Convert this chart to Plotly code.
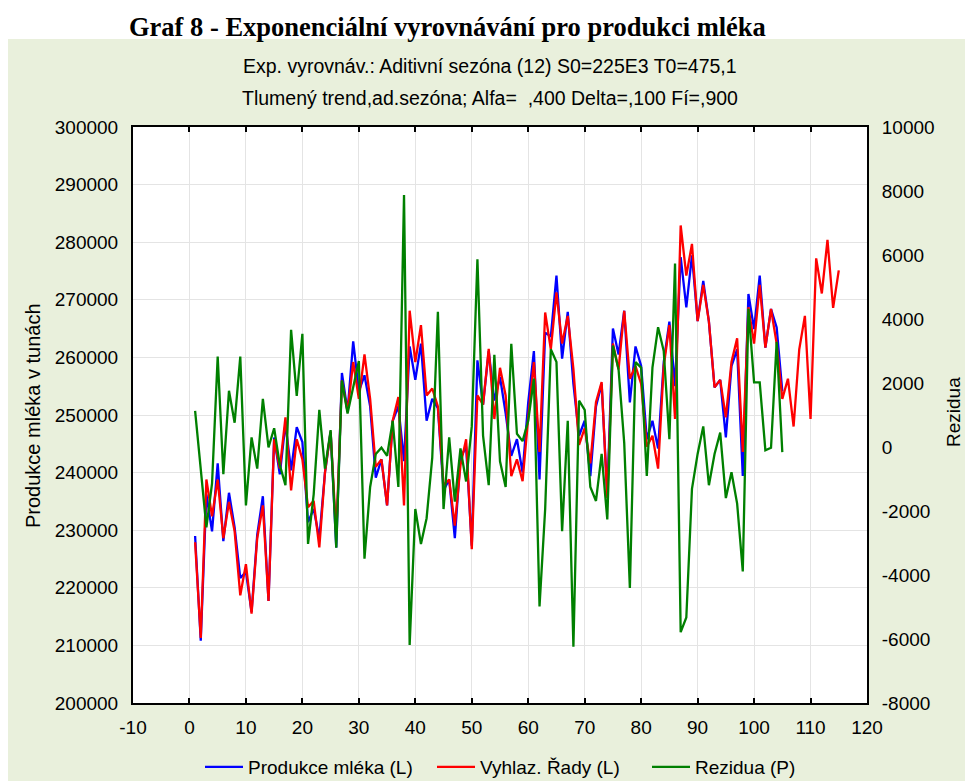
import plotly.graph_objects as go

# ---------------- data ----------------
x_obs = list(range(1, 106))
x_smooth = list(range(1, 116))

produkce = [
    229000, 210800, 236200, 229800, 241600, 228100, 236500, 230500, 221700, 222800,
    215800, 229200, 235900, 217700, 246100, 239700, 248500, 240400, 247900, 245300,
    231400, 233700, 228600, 240000, 247100, 227000, 257300, 250600, 262800, 254100,
    256900, 251500, 239100, 242300, 234300, 249000, 251500, 242000, 261900, 256100,
    262400, 249000, 252800, 251200, 236900, 238800, 228600, 242600, 244500, 227300,
    259500, 251800, 261100, 252500, 256600, 250300, 242900, 245800, 240000, 252200,
    261100, 238800, 264300, 263600, 274200, 259800, 267900, 255400, 246400, 249000,
    239400, 251500, 255400, 236200, 265000, 260500, 268100, 252200, 261900, 258500,
    245800, 249000, 244200, 259200, 266200, 255000, 277400, 268700, 277700, 266300,
    273300, 266200, 254800, 256100, 246100, 258500, 261400, 239400, 271000, 264900,
    274200, 261700, 268400, 265200, 254100,
]

vyhlazene = [
    227900, 211300, 238800, 232400, 238800, 228600, 234900, 229800, 218700, 224100,
    215500, 228600, 234300, 217700, 245800, 240700, 249600, 236900, 245800, 242300,
    234000, 235100, 227000, 240000, 247100, 229200, 256000, 250600, 259200, 252800,
    260500, 252800, 241000, 242300, 234300, 249000, 253100, 234300, 268100, 259200,
    265600, 253400, 254600, 251500, 237800, 238800, 230800, 241300, 245800, 226700,
    253400, 251800, 261500, 249300, 258200, 253400, 239400, 242300, 238500, 249600,
    259200, 243600, 267800, 261400, 271300, 262400, 267200, 258000, 244800, 247700,
    241600, 252200, 255700, 235600, 262400, 257900, 268100, 256300, 258500, 255400,
    244500, 246400, 240700, 258500, 265600, 249300, 282900, 274200, 279700, 266300,
    272600, 266200, 254800, 256100, 249600, 259200, 263300, 243600, 268700, 262400,
    272600, 261700, 268400, 262400, 252800, 256300, 248000, 261400, 267200, 249300,
    277200, 271100, 280400, 268600, 275100,
]

rezidua = [
    1126, -676, -2513, -1136, 2825, -849, 1757, 759, 2825, -1824,
    299, -676, 1505, -10, 586, -562, -1193, 3663, 1597, 3537,
    -3030, -1480, 1160, -676, 529, -3145, 2079, 1046, 1907, 2687,
    -3489, -1250, -217, -22, -275, 816, -1250, 7876, -6187, -1939,
    -3030, -2226, -332, 4226, -1939, 299, -1710, -45, -1078, 644,
    5867, 357, -1193, 2882, -447, -1250, 3227, 414, 185, 816,
    2136, -4981, -1939, 3055, 2653, -2628, 816, -6244, 1448, 1160,
    -1250, -1687, -217, -2261, 3169, 2423, 127, -4407, 2653, 2481,
    -906, 2481, 3743, 2997, 242, 5730, -5785, -5326, -1308, -217,
    644, -1193, -217, 449, -1595, -791, -1767, -3891, 4317, 2021,
    2021, -102, -22, 3284, -160,
]

x_ticks = [-10, 0, 10, 20, 30, 40, 50, 60, 70, 80, 90, 100, 110, 120]
x_ticktext = ["-10", "0", "10", "20", "30", "40", "50", "60", "70", "80", "90", "100", "110", "120"]
y_ticks = [200000, 210000, 220000, 230000, 240000, 250000, 260000, 270000, 280000, 290000, 300000]
y_ticktext = [str(v) for v in y_ticks]
y2_ticks = [-8000, -6000, -4000, -2000, 0, 2000, 4000, 6000, 8000, 10000]
y2_ticktext = ["-8000", "-6000", "-4000", "-2000", "0", "2000", "4000", "6000", "8000", "10000"]

title_main = "Graf 8 - Exponenciální vyrovnávání pro produkci mléka"
subtitle_1 = "Exp. vyrovnáv.: Aditivní sezóna (12) S0=225E3 T0=475,1"
subtitle_2 = "Tlumený trend,ad.sezóna; Alfa=  ,400 Delta=,100 Fí=,900"

# ---------------- layout geometry (pixels) ----------------
W, H = 965, 781
L, R, T, B = 133, 867, 127, 703
pw, ph = R - L, B - T


def px(xp):
    return (xp - L) / pw


def py(yp):
    return (B - yp) / ph


SANS = "Liberation Sans, Arial, sans-serif"
SERIF = "Liberation Serif, Times New Roman, serif"

fig = go.Figure()
fig.add_trace(go.Scatter(x=x_obs, y=produkce, mode="lines", name="Produkce mléka (L)",
                         legend="legend", line=dict(color="#0000FF", width=2.3)))
fig.add_trace(go.Scatter(x=x_smooth, y=vyhlazene, mode="lines", name="Vyhlaz. Řady (L)",
                         legend="legend2", line=dict(color="#FF0000", width=2.3)))
fig.add_trace(go.Scatter(x=x_obs, y=rezidua, mode="lines", name="Rezidua (P)", yaxis="y2",
                         legend="legend3", line=dict(color="#008000", width=2.3)))


def leg(line_start):
    return dict(orientation="h", x=px(line_start - 5), xanchor="left", y=py(767),
                yanchor="middle", bgcolor="rgba(0,0,0,0)", borderwidth=0,
                font=dict(family=SANS, size=19), itemwidth=38)


fig.update_layout(
    width=W, height=H,
    margin=dict(l=L, r=W - R, t=T, b=H - B, pad=0, autoexpand=False),
    paper_bgcolor="white",
    plot_bgcolor="white",
    font=dict(family=SANS, size=19, color="black"),
    showlegend=True,
    legend=leg(205),
    legend2=leg(437),
    legend3=leg(652),
    xaxis=dict(range=[-10, 120], tickvals=x_ticks, ticktext=x_ticktext,
               showgrid=True, gridcolor="#E4E4E4", gridwidth=1, zeroline=False,
               showline=True, linecolor="black", linewidth=2, mirror="ticks",
               ticks="inside", ticklen=5, tickwidth=2, tickcolor="black",
               tickfont=dict(family=SANS, size=19), ticklabelstandoff=6),
    yaxis=dict(range=[200000, 300000], tickvals=y_ticks, ticktext=y_ticktext,
               showgrid=True, gridcolor="#E4E4E4", gridwidth=1, zeroline=False,
               showline=True, linecolor="black", linewidth=2,
               ticks="", tickfont=dict(family=SANS, size=19), ticklabelstandoff=9),
    yaxis2=dict(range=[-8000, 10000], tickvals=y2_ticks, ticktext=y2_ticktext,
                overlaying="y", side="right", showgrid=False, zeroline=False,
                showline=True, linecolor="black", linewidth=2,
                ticks="", tickfont=dict(family=SANS, size=19), ticklabelstandoff=9),
    shapes=[
        dict(type="rect", xref="paper", yref="paper", layer="below",
             x0=px(8), x1=px(W + 5), y0=py(H + 5), y1=py(39),
             fillcolor="#E9F0DC", line=dict(width=0)),
        dict(type="rect", xref="paper", yref="paper", layer="below",
             x0=0, x1=1, y0=0, y1=1, fillcolor="white", line=dict(width=0)),
    ],
    annotations=[
        dict(text=f"<b>{title_main}</b>", xref="paper", yref="paper", x=px(447), y=py(27),
             xanchor="center", yanchor="middle", showarrow=False,
             font=dict(family=SERIF, size=26.5, color="black")),
        dict(text=subtitle_1, xref="paper", yref="paper", x=px(490), y=py(66),
             xanchor="center", yanchor="middle", showarrow=False,
             font=dict(family=SANS, size=19.5)),
        dict(text=subtitle_2, xref="paper", yref="paper", x=px(490), y=py(98),
             xanchor="center", yanchor="middle", showarrow=False,
             font=dict(family=SANS, size=19.5)),
        dict(text="Produkce mléka v tunách", xref="paper", yref="paper", x=px(33), y=py(415),
             xanchor="center", yanchor="middle", showarrow=False, textangle=-90,
             font=dict(family=SANS, size=20)),
        dict(text="Rezidua", xref="paper", yref="paper", x=px(953), y=py(412),
             xanchor="center", yanchor="middle", showarrow=False, textangle=-90,
             font=dict(family=SANS, size=19)),
    ],
)

fig.write_html(
    "out.html",
    config={"displayModeBar": False},
    post_script="document.body.style.margin='0px';document.body.style.overflow='hidden';",
)
